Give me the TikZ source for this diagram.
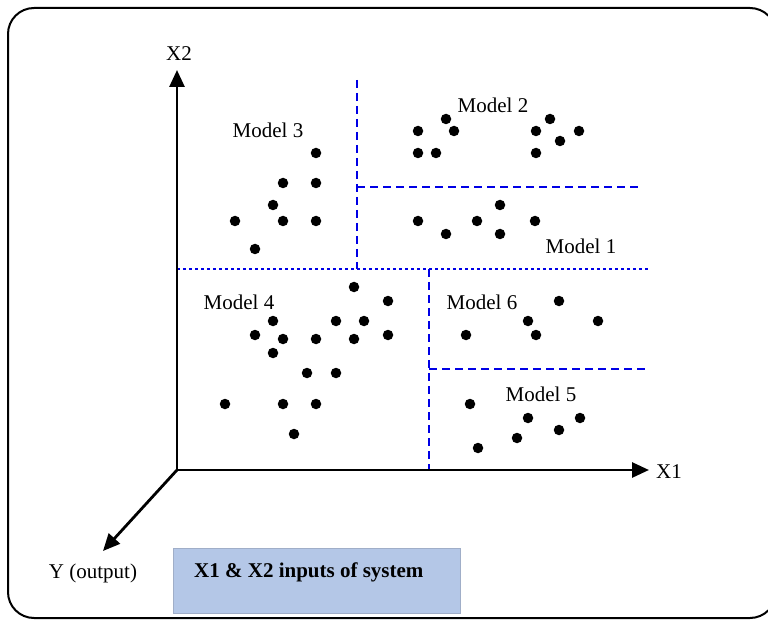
\documentclass[tikz,border=0pt]{standalone}
\usepackage{fontspec}
\setmainfont{Liberation Serif}
\usetikzlibrary{arrows.meta}
\tikzset{
  dotn/.style={circle,fill=black,inner sep=0pt,minimum size=10.5pt},
  lbl/.style={font=\fontsize{21}{24}\selectfont,inner sep=0pt},
  axis/.style={line width=2.8pt,-{Triangle[length=17pt,width=15pt]}},
  longdash/.style={blue!90!black,line width=1.6pt,dash pattern=on 8pt off 5pt},
  shortdash/.style={blue!90!black,line width=1.1pt,dash pattern=on 3pt off 3pt},
}
\begin{document}
\begin{tikzpicture}[x=1pt,y=-1pt]
\useasboundingbox (0,0) rectangle (768,620);
\begin{scope}
\clip (0,0) rectangle (768,620);
\draw[line width=2pt,rounded corners=26pt] (8,8) rectangle (776,618);
\end{scope}
% partitions
\draw[longdash] (357,80) -- (357,269);
\draw[longdash] (357,187) -- (638,187);
\draw[shortdash] (177,269) -- (649,269);
\draw[longdash] (429,269) -- (429,470);
\draw[longdash] (429,369) -- (647,369);
% axes
\coordinate (O) at (177,470);
\coordinate (x2end) at (177,70);
\coordinate (x1end) at (649,470);
\coordinate (yend) at (103,551);
\draw[axis] (O) -- (x2end);
\draw[axis] (O) -- (x1end);
\draw[axis] (O) -- (yend);
\node[lbl] (lx2) at (179,54) {X2};
\node[lbl] (lx1) at (669,472) {X1};
\node[lbl] (ly) at (93,573) {Y (output)};
% labels
\node[lbl] (m3) at (268,130) {Model 3};
\node[lbl] (m2) at (493,105) {Model 2};
\node[lbl] (m1) at (581,246) {Model 1};
\node[lbl] (m4) at (239,302) {Model 4};
\node[lbl] (m6) at (482,302) {Model 6};
\node[lbl] (m5) at (541,394) {Model 5};
% dots
\foreach \p [count=\i] in {
 (316,153),(283,183),(316,183),(273,205),(235,221),(283,221),(316,221),(255,249),
 (446,119),(418,131),(454,131),(418,153),(436,153),(550,119),(536,131),(579,131),(560,141),(536,153),
 (500,205),(418,221),(477,221),(535,221),(446,234),(500,234),
 (354,287),(388,301),(273,321),(336,321),(364,321),(255,335),(283,339),(316,339),(354,339),(388,335),(273,353),(307,373),(336,373),(225,404),(283,404),(316,404),(294,434),
 (559,301),(528,321),(598,321),(466,335),(536,335),
 (470,404),(528,418),(580,418),(559,430),(517,438),(478,448)}
 \node[dotn] (d\i) at \p {};
% info box
\node[draw={rgb,255:red,160;green,174;blue,200},line width=1pt,fill={rgb,255:red,180;green,199;blue,231},
  minimum width=287pt,minimum height=65pt,inner sep=0pt] (info) at (316.5,580.5) {};
\node[font=\fontsize{21}{24}\selectfont\bfseries,anchor=west,inner sep=0pt] (infotext) at (194,572) {X1 \& X2 inputs of system};
\end{tikzpicture}
\end{document}
